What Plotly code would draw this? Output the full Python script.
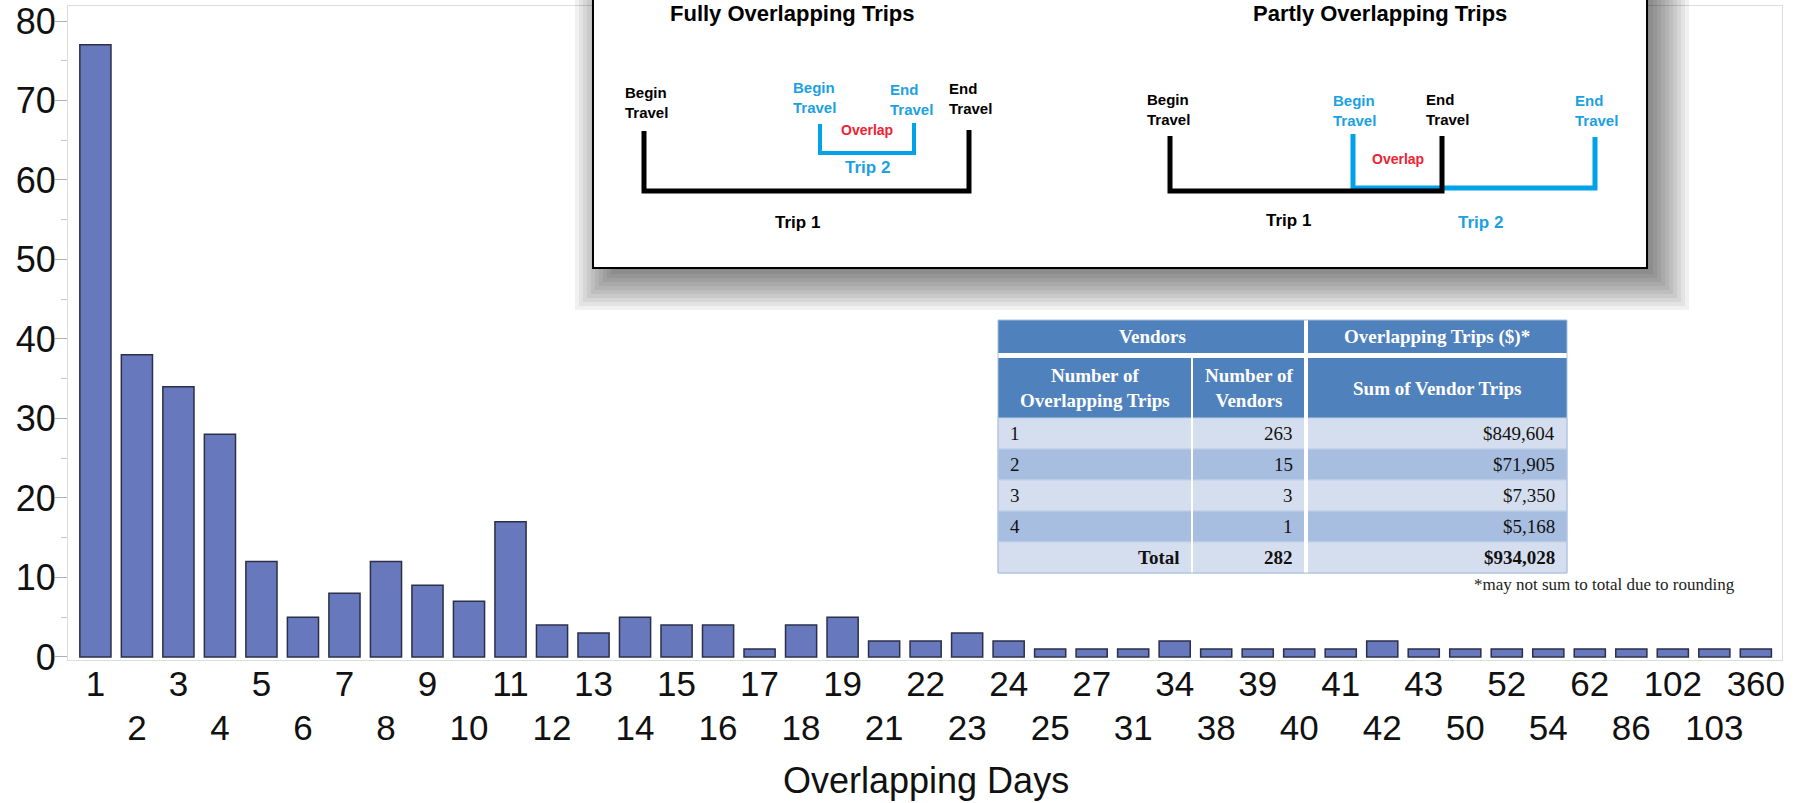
import plotly.graph_objects as go

# ---------------- data ----------------
days = ["1", "2", "3", "4", "5", "6", "7", "8", "9", "10", "11", "12", "13", "14",
        "15", "16", "17", "18", "19", "21", "22", "23", "24", "25", "27", "31", "34",
        "38", "39", "40", "41", "42", "43", "50", "52", "54", "62", "86", "102", "103", "360"]
counts = [77, 38, 34, 28, 12, 5, 8, 12, 9, 7, 17, 4, 3, 5,
          4, 4, 1, 4, 5, 2, 2, 3, 2, 1, 1, 1, 2,
          1, 1, 1, 1, 2, 1, 1, 1, 1, 1, 1, 1, 1, 1]

y_ticks = [0, 10, 20, 30, 40, 50, 60, 70, 80]

table_group_headers = ["Vendors", "Overlapping Trips ($)*"]
table_col_headers = ["Number of<br>Overlapping Trips", "Number of<br>Vendors", "Sum of Vendor Trips"]
trips_per_vendor = ["1", "2", "3", "4"]
vendor_counts = [263, 15, 3, 1]
vendor_sums = [849604, 71905, 7350, 5168]
total_label = "Total"
total_vendors = 282
total_sum = 934028
footnote = "*may not sum to total due to rounding"

# ---------------- geometry helpers (screen pixels) ----------------
W, H = 1803, 803
L, R, T, B = 68, 1782, 6, 660


def px(x):
    return (x - L) / (R - L)


def py(y):
    return (B - y) / (B - T)


SANS = "Liberation Sans, Arial, sans-serif"
SERIF = "Liberation Serif, Times New Roman, serif"
BLUE = "#00a2e8"
BLUE_T = "#1ba1e2"
RED = "#ee2233"

fig = go.Figure()
fig.add_trace(go.Bar(
    x=days, y=counts,
    marker=dict(color="#6878bd", line=dict(color="#2b2f48", width=1.5)),
    hoverinfo="x+y", showlegend=False,
))
# helper trace for the second row of tick labels
fig.add_trace(go.Scatter(x=[None], y=[None], xaxis="x2", yaxis="y",
                         showlegend=False, hoverinfo="skip"))

shapes = []
annotations = []

# ---------------- diagram box with shadow ----------------
bx0, by0, bx1, by1 = 593, -40, 1647, 268
dx, dy, rr, N, a = 12, 12, 30, 16, 0.055
for k in range(N):
    e = rr - 2 * rr * k / (N - 1)
    shapes.append(dict(type="rect", xref="paper", yref="paper",
                       x0=px(bx0 + dx - e), x1=px(bx1 + dx + e),
                       y0=py(by1 + dy + e), y1=py(by0),
                       fillcolor="black", opacity=a, line_width=0, layer="above"))
shapes.append(dict(type="rect", xref="paper", yref="paper",
                   x0=px(bx0), x1=px(bx1), y0=py(by1), y1=py(by0),
                   fillcolor="white", line=dict(color="black", width=2), layer="above"))


def bracket(x0, ytop0, x1, ytop1, ybot, color, width):
    path = (f"M {px(x0)},{py(ytop0)} L {px(x0)},{py(ybot)} "
            f"L {px(x1)},{py(ybot)} L {px(x1)},{py(ytop1)}")
    shapes.append(dict(type="path", xref="paper", yref="paper", path=path,
                       line=dict(color=color, width=width), layer="above"))


bracket(644, 131, 969, 130, 191, "black", 5)
bracket(820, 124, 914, 123, 153, BLUE, 4)
bracket(1353, 134, 1595, 137, 188, BLUE, 5)
bracket(1170, 136, 1442, 136, 191, "black", 5)


def note(text, x, y, color, size=15, xanchor="left", align="left", family=SANS, bold=True):
    annotations.append(dict(text=text, x=px(x), y=py(y), xref="paper", yref="paper",
                            xanchor=xanchor, yanchor="middle", showarrow=False, align=align,
                            font=dict(family=family, size=size, color=color,
                                      weight="bold" if bold else "normal")))


note("Fully Overlapping Trips", 792, 14, "black", 22, "center", "center")
note("Partly Overlapping Trips", 1380, 13, "black", 22, "center", "center")
# left diagram
note("Begin<br>Travel", 623, 103, "black")
note("Begin<br>Travel", 791, 98, BLUE_T)
note("End<br>Travel", 888, 99.5, BLUE_T)
note("End<br>Travel", 947, 98.5, "black")
note("Overlap", 867, 130, RED, 14, "center", "center")
note("Trip 2", 867, 167, BLUE_T, 17, "center", "center")
note("Trip 1", 797, 222, "black", 17, "center", "center")
# right diagram
note("Begin<br>Travel", 1145, 109, "black")
note("Begin<br>Travel", 1331, 110.5, BLUE_T)
note("End<br>Travel", 1424, 109, "black")
note("End<br>Travel", 1573, 110.5, BLUE_T)
note("Overlap", 1398, 159, RED, 14, "center", "center")
note("Trip 1", 1288, 221, "black", 17, "center", "center")
note("Trip 2", 1480, 223, BLUE_T, 17, "center", "center")

# ---------------- table ----------------
cols = [998, 1192, 1306, 1567]
HDR = "#4f81bd"
ROW_LIGHT = "#d5deee"
ROW_DARK = "#a8bee0"


def rect(x0, y0, x1, y1, fill, line_color=None, lw=0):
    shapes.append(dict(type="rect", xref="paper", yref="paper",
                       x0=px(x0), x1=px(x1), y0=py(y1), y1=py(y0), fillcolor=fill,
                       line=dict(color=line_color or fill, width=lw), layer="above"))


h1_top, h1_bot = 320, 353
h2_top, h2_bot = 358, 418
row_h = 31

rect(cols[0], h1_top, cols[3], h1_bot, HDR)
rect(cols[0], h2_top, cols[3], h2_bot, HDR)

rows = [[trips_per_vendor[i], f"{vendor_counts[i]:,}", f"${vendor_sums[i]:,}"]
        for i in range(len(trips_per_vendor))]
rows.append([f"<b>{total_label}</b>", f"<b>{total_vendors:,}</b>", f"<b>${total_sum:,}</b>"])

for i, row in enumerate(rows):
    y0 = h2_bot + row_h * i
    fill = ROW_LIGHT if i % 2 == 0 else ROW_DARK
    rect(cols[0], y0, cols[3], y0 + row_h, fill, "#bfcfe8", 1)

table_bottom = h2_bot + row_h * len(rows)
# white separators
rect(cols[1] - 1, h2_top, cols[1] + 1, table_bottom, "white")
rect(cols[2] - 2, h1_top, cols[2] + 2, table_bottom, "white")
# outer border
shapes.append(dict(type="rect", xref="paper", yref="paper",
                   x0=px(cols[0]), x1=px(cols[3]), y0=py(table_bottom), y1=py(h1_top),
                   line=dict(color="#a9c0e0", width=1), layer="above"))

TF = 19
note(table_group_headers[0], (cols[0] + cols[2]) / 2, (h1_top + h1_bot) / 2, "white", TF,
     "center", "center", SERIF)
note(table_group_headers[1], (cols[2] + cols[3]) / 2, (h1_top + h1_bot) / 2, "white", TF,
     "center", "center", SERIF)
for j, txt in enumerate(table_col_headers):
    note(txt, (cols[j] + cols[j + 1]) / 2, (h2_top + h2_bot) / 2, "white", TF,
         "center", "center", SERIF)

for i, row in enumerate(rows):
    yc = h2_bot + row_h * i + row_h / 2
    is_total = i == len(rows) - 1
    if is_total:
        note(row[0], cols[1] - 10, yc, "#111", TF, "right", "right", SERIF, False)
    else:
        note(row[0], cols[0] + 10, yc, "#111", TF, "left", "left", SERIF, False)
    note(row[1], cols[2] - 11, yc, "#111", TF, "right", "right", SERIF, False)
    note(row[2], cols[3] - 10, yc, "#111", TF, "right", "right", SERIF, False)

note(footnote, 1737, 584, "#222", 17, "right", "right", SERIF, False)

# x-axis title
note("Overlapping Days", 926, 780, "#111", 36, "center", "center", SANS, False)

# ---------------- layout ----------------
xr = [-0.66, 40.63]
fig.update_layout(
    width=W, height=H,
    margin=dict(l=L, r=W - R, t=T, b=H - B, pad=0, autoexpand=False),
    paper_bgcolor="white", plot_bgcolor="white",
    bargap=0.25,
    shapes=shapes, annotations=annotations,
    font=dict(family=SANS, color="#111"),
    xaxis=dict(
        type="category", range=xr, automargin=False,
        tickmode="array", tickvals=days[0::2], ticktext=days[0::2],
        tickangle=0, ticks="", showgrid=False, zeroline=False,
        showline=True, mirror=True, linecolor="#dcdcdc", linewidth=1,
        tickfont=dict(family=SANS, size=35, color="#111"),
        ticklabelstandoff=-7, ticklabeloverflow="allow",
    ),
    xaxis2=dict(
        overlaying="x", anchor="y", side="bottom", type="linear", range=xr, automargin=False,
        tickmode="array", tickvals=list(range(1, len(days), 2)), ticktext=days[1::2],
        tickangle=0, ticks="", showgrid=False, zeroline=False, showline=False,
        tickfont=dict(family=SANS, size=35, color="#111"),
        ticklabelstandoff=44, ticklabeloverflow="allow",
    ),
    yaxis=dict(
        range=[-0.39, 81.89], tickmode="array", tickvals=y_ticks, automargin=False,
        ticks="outside", ticklen=12, tickcolor="#b0b0b0", tickwidth=1,
        minor=dict(dtick=5, ticks="outside", ticklen=6, tickcolor="#c8c8c8", showgrid=False),
        showgrid=False, zeroline=False,
        showline=True, mirror=True, linecolor="#dcdcdc", linewidth=1,
        tickfont=dict(family=SANS, size=36, color="#111"),
        ticklabelstandoff=-8, ticklabeloverflow="allow",
    ),
)

fig.write_html("out.html",
               config={"displayModeBar": False},
               post_script="document.body.style.margin='0';document.body.style.overflow='hidden';")
